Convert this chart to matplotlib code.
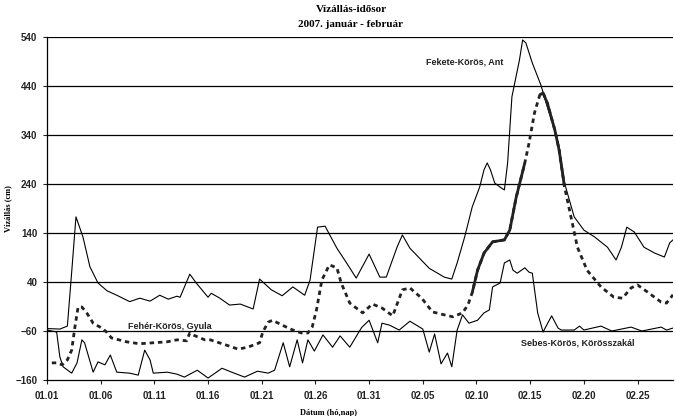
import matplotlib.pyplot as plt
import numpy as np

# napok 01.01-tol szamolva
fekete_nap = [0, 1.2, 1.9, 2.3, 2.7, 3.35, 4.0, 4.75, 5.6, 6.5, 7.7, 8.65, 9.6, 10.5, 11.3, 12.1,
              12.4, 13.3, 13.9, 15.0, 15.3, 16.1, 17.0, 18.0, 19.2, 19.8, 20.9, 21.9, 22.9, 24.0,
              24.5, 25.2, 25.9, 27.0, 27.9, 28.8, 30.0, 31.0, 31.6, 32.6, 33.1, 33.8, 35.6, 37.0,
              37.7, 38.2, 38.9, 39.6, 40.3, 40.7, 41.0, 41.3, 41.7, 42.3, 42.6, 42.9, 43.3, 44.0,
              44.3, 44.6, 45.2, 46.0, 46.6, 47.3, 47.7, 48.2, 49.1, 50.0, 51.0, 52.2, 53.0, 53.5,
              54.0, 54.7, 55.6, 56.6, 57.5, 58.0, 58.3]
fekete_cm = [-55, -56, -50, 60, 173, 132, 71, 38, 22, 13, 0, 7, 1, 13, 5, 11,
             9, 56, 38, 9, 17, 7, -7, -5, -15, 46, 24, 12, 30, 13,
             44, 152, 154, 109, 79, 48, 97, 50, 50, 111, 136, 109, 68, 50,
             46, 79, 132, 193, 234, 269, 283, 269, 242, 232, 228, 283, 418, 493,
             534, 528, 487, 442, 397, 350, 316, 242, 173, 146, 132, 111, 85, 111,
             152, 142, 111, 99, 91, 120, 126]

feher_nap = [0.45, 1.0, 1.4, 1.9, 2.3, 2.6, 2.9, 3.25, 3.7, 4.3, 5.1, 5.55, 6.0, 7.4, 8.6, 9.9,
             11.2, 12.1, 13.0, 13.3, 13.6, 14.7, 15.2, 16.6, 17.8, 18.7, 19.8, 20.1, 20.6, 21.0,
             21.9, 22.9, 23.7, 24.3, 24.7, 25.1, 25.6, 26.3, 27.0, 27.4, 28.2, 29.4, 30.3, 31.2,
             32.2, 33.1, 33.8, 34.9, 35.9, 37.0, 37.8, 38.7, 39.2, 39.6, 40.1, 40.7, 41.5, 42.6,
             43.1, 43.7, 44.5, 44.9, 45.4, 45.9, 46.2, 46.6, 47.3, 47.7, 48.2, 48.8, 49.4, 50.3,
             51.6, 52.8, 53.6, 54.4, 55.0, 55.9, 57.2, 57.7, 58.3]
feher_cm = [-125, -125, -129, -119, -99, -52, -11, -11, -23, -44, -54, -62, -74, -82, -86, -84,
            -82, -78, -80, -64, -68, -78, -78, -88, -97, -93, -84, -62, -42, -38,
            -48, -58, -64, -64, -52, -17, 44, 75, 69, 38, -3, -23, -5, -13,
            -29, 24, 28, 7, -21, -27, -31, -23, -7, 18, 64, 99, 122, 126,
            146, 213, 283, 324, 385, 422, 426, 405, 350, 309, 234, 173, 111, 64,
            30, 9, 7, 28, 34, 20, -1, -3, 14]

sebes_nap = [0, 0.9, 1.2, 1.5, 2.3, 2.8, 3.25, 3.5, 4.3, 4.75, 5.4, 5.9, 6.5, 7.7, 8.5, 9.1,
             9.6, 9.9, 11.2, 12.1, 12.8, 14.0, 15.0, 16.3, 17.2, 18.4, 19.6, 20.6, 21.2, 22.0,
             22.6, 23.3, 23.8, 24.3, 24.9, 25.7, 26.6, 27.3, 28.2, 29.3, 30.0, 30.8, 31.2, 31.9,
             32.8, 33.8, 35.0, 35.6, 36.1, 36.7, 37.3, 37.7, 38.2, 38.7, 39.3, 40.1, 40.7, 41.2,
             41.5, 42.2, 42.6, 43.1, 43.4, 43.8, 44.5, 44.9, 45.2, 45.7, 46.2, 47.0, 47.6, 47.9,
             49.1, 49.6, 50.0, 51.6, 52.6, 54.4, 55.4, 57.2, 57.7, 58.3]
sebes_cm = [-58, -62, -113, -133, -146, -125, -78, -84, -144, -123, -129, -109, -144, -146, -150, -99,
            -119, -146, -144, -148, -154, -140, -156, -136, -144, -154, -142, -146, -140, -84,
            -133, -78, -125, -78, -101, -68, -93, -70, -93, -53, -38, -84, -44, -48,
            -58, -40, -56, -103, -66, -127, -105, -133, -58, -27, -44, -38, -23, -17,
            30, 38, 79, 85, 64, 58, 69, 60, 58, -23, -62, -29, -54, -58,
            -58, -50, -58, -50, -60, -52, -60, -52, -58, -54]

# vastag szakaszok a Feher-Korosnel
vastag = [(39.6, 44.6), (45.8, 48.2)]

x_ticks = list(range(0, 56, 5))
x_labels = ['01.01', '01.06', '01.11', '01.16', '01.21', '01.26',
            '01.31', '02.05', '02.10', '02.15', '02.20', '02.25']
y_ticks = [-160, -60, 40, 140, 240, 340, 440, 540]

fig = plt.figure(figsize=(6.75, 4.16), dpi=100)
ax = fig.add_axes([0.0696, 0.0865, 0.9274, 0.8245])

for y in y_ticks[1:]:
    ax.axhline(y, color='black', lw=0.9, zorder=1)

ax.plot(fekete_nap, fekete_cm, color='black', lw=0.8, zorder=3)
ax.plot(sebes_nap, sebes_cm, color='black', lw=0.8, zorder=3)
ax.plot(feher_nap, feher_cm, color='#222222', lw=2.0, ls=(0, (1.6, 1.4)), zorder=4)

fn = np.array(feher_nap)
fc = np.array(feher_cm)
for a, b in vastag:
    m = (fn >= a) & (fn <= b)
    ax.plot(fn[m], fc[m], color='#222222', lw=2.0, zorder=5, solid_capstyle='butt')

lbl = dict(fontsize=6.5, fontweight='bold', family='Liberation Sans', ha='center', va='center', color='#222222')
ax.text(38.9, 489, 'Fekete-Körös, Ant', **lbl)
ax.text(11.45, -50, 'Fehér-Körös, Gyula', **lbl)
ax.text(49.4, -84, 'Sebes-Körös, Körösszakál', **lbl)

ax.set_xlim(0, 58.3)
ax.set_ylim(-160, 540)
ax.set_xticks(x_ticks)
ax.set_xticklabels(x_labels)
ax.set_yticks(y_ticks)
ax.tick_params(axis='both', length=3, width=0.8, labelsize=7, colors='#222222')
ax.tick_params(axis='x', pad=5)
ax.tick_params(axis='y', pad=4)
for t in ax.get_xticklabels() + ax.get_yticklabels():
    t.set_family('Liberation Sans')
    t.set_fontweight('bold')

ax.spines['top'].set_visible(False)
ax.spines['right'].set_visible(False)
ax.spines['left'].set_linewidth(0.9)
ax.spines['bottom'].set_linewidth(0.9)

ax.set_ylabel('Vízállás (cm)', fontsize=6, fontweight='bold', family='Liberation Serif')
ax.yaxis.set_label_coords(-0.056, 0.5)
ax.set_xlabel('Dátum (hó,nap)', fontsize=6, fontweight='bold', family='Liberation Serif')
ax.xaxis.set_label_coords(0.45, -0.085)
fig.text(0.52, 0.978, 'Vízállás-idősor', fontsize=8, fontweight='bold', family='Liberation Serif',
         ha='center', va='center')
fig.text(0.52, 0.942, '2007. január - február', fontsize=8, fontweight='bold', family='Liberation Serif',
         ha='center', va='center')

fig.savefig('out.png', dpi=100)
